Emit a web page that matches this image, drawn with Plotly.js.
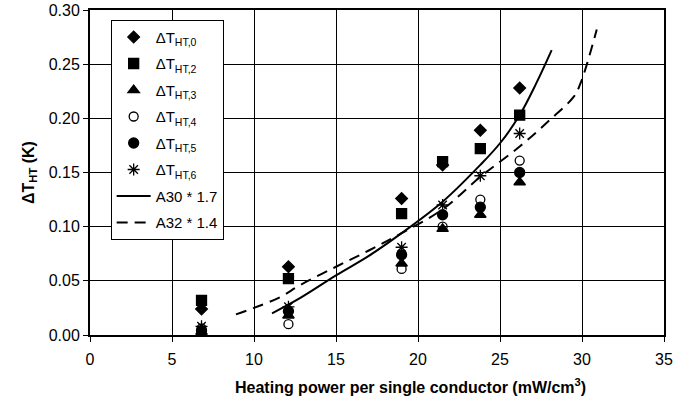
<!DOCTYPE html>
<html>
<head>
<meta charset="utf-8">
<script src="https://cdn.plot.ly/plotly-3.0.1.min.js"></script>
<style>html,body{margin:0;padding:0;background:#fff;}#chart{width:688px;height:404px;}</style>
</head>
<body>
<div id="chart"></div>
<script>
// Measured heating power (mW/cm^3)
const xPower = [6.8, 12.1, 19.0, 21.5, 23.8, 26.2];
const dT0 = [0.024, 0.063, 0.126, 0.157, 0.189, 0.228];
const dT2 = [0.032, 0.052, 0.112, 0.160, 0.172, 0.203];
const dT3 = [0.003, 0.018, 0.066, 0.098, 0.111, 0.141];
const dT4 = [0.006, 0.010, 0.061, 0.100, 0.125, 0.161];
const dT5 = [0.004, 0.022, 0.074, 0.111, 0.118, 0.150];
const dT6 = [0.008, 0.026, 0.081, 0.120, 0.147, 0.186];
// Model curves
const a30x = [11.1, 12.8, 15.0, 17.0, 19.0, 21.5, 23.8, 25.0, 26.2, 27.2, 28.15];
const a30y = [0.020, 0.034, 0.055, 0.073, 0.094, 0.123, 0.157, 0.177, 0.203, 0.232, 0.263];
const a32x = [8.9, 10.0, 11.6, 12.8, 15.0, 17.0, 19.0, 21.5, 23.8, 26.2, 28.0, 29.5, 29.9, 30.3, 30.9];
const a32y = [0.019, 0.025, 0.035, 0.046, 0.063, 0.078, 0.094, 0.116, 0.146, 0.174, 0.198, 0.220, 0.232, 0.250, 0.282];
const seriesNames = ['ΔT<sub>HT,0</sub>', 'ΔT<sub>HT,2</sub>', 'ΔT<sub>HT,3</sub>', 'ΔT<sub>HT,4</sub>', 'ΔT<sub>HT,5</sub>', 'ΔT<sub>HT,6</sub>'];
const curveNames = ['A30 * 1.7', 'A32 * 1.4'];
const xTitle = 'Heating power per single conductor (mW/cm<sup>3</sup>)';
const yTitle = 'ΔT<sub>HT</sub> (K)';

const ys = [dT0, dT2, dT3, dT4, dT5, dT6];
const symbols = ['diamond', 'square', 'triangle-up', 'circle-open', 'circle', 'asterisk-open'];
const sizes = [9, 10, 10, 9, 10, 10];
const traces = ys.map((y, i) => ({
  x: xPower, y: y, type: 'scatter', mode: 'markers', name: seriesNames[i],
  legendgroup: 'g' + i,
  marker: {symbol: symbols[i], size: sizes[i], color: '#000', line: {color: '#000', width: 1.3}}
}));
traces.push({x: a30x, y: a30y, type: 'scatter', mode: 'lines', name: curveNames[0], legendgroup: 'g6',
  line: {color: '#000', width: 2, shape: 'spline'}});
traces.push({x: a32x, y: a32y, type: 'scatter', mode: 'lines', name: curveNames[1], legendgroup: 'g7',
  line: {color: '#000', width: 2, dash: '11px,7px', shape: 'spline'}});

const layout = {
  width: 688, height: 404,
  margin: {l: 90, r: 24, t: 10, b: 69},
  paper_bgcolor: '#fff', plot_bgcolor: '#fff',
  font: {family: 'Liberation Sans, Arial, sans-serif', size: 16, color: '#000'},
  showlegend: true,
  legend: {x: 0.036, y: 0.97, xanchor: 'left', yanchor: 'top', bgcolor: '#fff',
    bordercolor: '#000', borderwidth: 1, tracegroupgap: 4, itemwidth: 34,
    font: {size: 15, family: 'Liberation Sans, Arial, sans-serif'}},
  xaxis: {range: [0, 35], dtick: 5, tick0: 0, showgrid: true, gridcolor: '#000', gridwidth: 1,
    showline: true, linecolor: '#000', linewidth: 2, mirror: true, ticks: 'outside', ticklen: 5,
    tickcolor: '#000', zeroline: false, ticklabelstandoff: 4, tickfont: {size: 16}},
  yaxis: {range: [0, 0.30], dtick: 0.05, tick0: 0, tickformat: '.2f', showgrid: true, gridcolor: '#000', gridwidth: 1,
    showline: true, linecolor: '#000', linewidth: 2, mirror: true, ticks: 'outside', ticklen: 5,
    tickcolor: '#000', zeroline: false, tickfont: {size: 16},
    title: {text: yTitle, font: {size: 16, weight: 'bold'}, standoff: 10}},
  annotations: [{text: xTitle, xref: 'paper', yref: 'paper', x: 0.5575, y: -0.157,
    xanchor: 'center', yanchor: 'middle', showarrow: false, font: {size: 16, weight: 'bold'}}]
};
Plotly.newPlot('chart', traces, layout, {staticPlot: true, displayModeBar: false});
</script>
</body>
</html>
